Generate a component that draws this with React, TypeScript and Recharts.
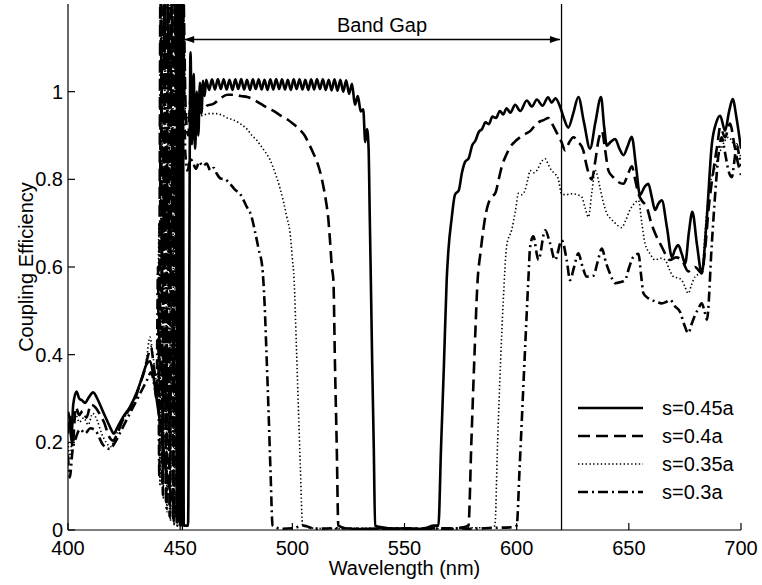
import React from 'react';
import { LineChart, Line, XAxis, YAxis, ReferenceLine, ReferenceDot, Legend, Label } from 'recharts';

type Pt = [number, number];

const FONT = '"Liberation Sans", Arial, Helvetica, sans-serif';

const wavelengthTicks = [400, 450, 500, 550, 600, 650, 700];
const efficiencyTicks = [0, 0.2, 0.4, 0.6, 0.8, 1];

// Coupling efficiency vs wavelength (nm), s = 0.45a
const s045: Pt[] = [
  [400, 0.27], [400.8, 0.25], [401.5, 0.205], [402.3, 0.285], [403.8, 0.316], [405, 0.3], [406.2, 0.296],
  [407.6, 0.29], [409.2, 0.302], [411.2, 0.314], [413.4, 0.296], [415.6, 0.27], [417.4, 0.25], [419, 0.232],
  [420.4, 0.22], [422.2, 0.236], [424.6, 0.258], [427.5, 0.28], [430.5, 0.312], [433, 0.348], [435, 0.378],
  [436.6, 0.385], [437.8, 0.36], [439.2, 0.31], [440.6, 0.26], [441.8, 0.22],
  [443.5, 0.14], [445.5, 0.09], [447.5, 0.05], [448.4, 0.03], [448.8, 1.35], [449.2, 0.02], [449.6, 1.35],
  [450.0, 0.01], [450.4, 1.35], [450.8, 0.01], [451.2, 1.35], [451.6, 0.01], [453.5, 0.01],
  [454.6, 1.09], [455.3, 0.88], [456.0, 1.04], [456.7, 0.87], [457.4, 1.0], [458.1, 0.9], [458.8, 1.02],
  [459.5, 0.95], [460.2, 1.025], [460.9, 0.99], [461.6, 1.027],
  [462.9, 1.004], [464.2, 1.028], [465.5, 1.005], [466.8, 1.029], [468.1, 1.006], [469.4, 1.028],
  [470.7, 1.005], [472.0, 1.027], [473.3, 1.004], [474.6, 1.028], [475.9, 1.006], [477.2, 1.029],
  [478.5, 1.005], [479.8, 1.027], [481.1, 1.004], [482.4, 1.028], [483.7, 1.006], [485.0, 1.028],
  [486.3, 1.005], [487.6, 1.027], [488.9, 1.004], [490.2, 1.028], [491.5, 1.005], [492.8, 1.029],
  [494.1, 1.006], [495.4, 1.028], [496.7, 1.005], [498.0, 1.027], [499.3, 1.004], [500.6, 1.028],
  [501.9, 1.006], [503.2, 1.028], [504.5, 1.005], [505.8, 1.027], [507.1, 1.004], [508.4, 1.028],
  [509.7, 1.005], [511.0, 1.029], [512.3, 1.006], [513.6, 1.028], [514.9, 1.004], [516.2, 1.027],
  [517.5, 1.003], [518.8, 1.028], [520.1, 1.002], [521.4, 1.027], [522.7, 1.0], [524.0, 1.026],
  [525.3, 0.995], [526.6, 1.018], [527.9, 0.97], [529.2, 0.99], [530.5, 0.955], [531.6, 0.96],
  [532.5, 0.885], [533.3, 0.915], [534.0, 0.87], [534.5, 0.72], [535.0, 0.57], [535.6, 0.38],
  [536.3, 0.19], [536.9, 0.01],
  [540, 0.006], [545, 0.003], [550, 0.004], [555, 0.002], [560, 0.005], [563, 0.01], [565.1, 0.01],
  [566.3, 0.19], [567.6, 0.38], [568.8, 0.57], [569.6, 0.64], [571, 0.71], [572.5, 0.765], [574.2, 0.775],
  [575.6, 0.815], [577, 0.84], [578.6, 0.848], [580.2, 0.878], [581.6, 0.888], [583.1, 0.908],
  [584.6, 0.915], [586.1, 0.93], [587.6, 0.926], [589.2, 0.943], [590.8, 0.94], [592.5, 0.956],
  [594.0, 0.948], [595.5, 0.962], [597.2, 0.952], [599.3, 0.97], [601.6, 0.956], [604.5, 0.98],
  [606.8, 0.966], [609, 0.982], [611.5, 0.968], [614, 0.987], [615.6, 0.975], [617.3, 0.985],
  [619.4, 0.965], [621, 0.94], [623, 0.918], [625.2, 0.95], [627.5, 0.988], [630, 0.93], [632.7, 0.87],
  [635.1, 0.93], [637.6, 0.988], [639, 0.92], [640.2, 0.877], [642, 0.886], [643.9, 0.892],
  [645.8, 0.87], [647.6, 0.855], [649.5, 0.876], [651.3, 0.897], [653.2, 0.83], [655, 0.764],
  [656.9, 0.782], [658.7, 0.79], [660.2, 0.76], [661.7, 0.73], [663.2, 0.745], [664.7, 0.752],
  [667, 0.69], [669.2, 0.623], [670.6, 0.64], [672, 0.65], [673.6, 0.63], [675.1, 0.608], [676.8, 0.68],
  [678.3, 0.726], [680.4, 0.65], [682.5, 0.586], [684.6, 0.7], [687, 0.88], [689, 0.93], [690.7, 0.945],
  [692.9, 0.911], [694.7, 0.955], [696.3, 0.983], [698, 0.94], [700, 0.87],
];

// s = 0.4a
const s040: Pt[] = [
  [400, 0.22], [401, 0.26], [402, 0.19], [403.5, 0.28], [405, 0.262], [406.6, 0.272], [408.2, 0.256],
  [410.2, 0.286], [412.2, 0.28], [414.2, 0.264], [416.2, 0.244], [418.2, 0.214], [420, 0.204], [422, 0.22],
  [424, 0.246], [426, 0.266], [428, 0.28], [430, 0.3], [432, 0.332], [434, 0.362], [435.8, 0.4],
  [437, 0.418], [438.3, 0.37], [439.5, 0.33], [440.5, 0.28],
  [441.3, 1.35], [442.1, 0.1], [442.9, 1.35], [443.7, 0.06], [444.5, 1.35], [445.3, 0.03], [446.1, 1.35],
  [446.9, 0.02], [447.7, 1.35], [448.5, 0.01], [449.3, 1.35], [450.1, 0.02], [450.9, 1.35],
  [452.6, 0.94], [453.6, 0.9], [454.6, 0.985], [455.6, 0.915], [456.6, 0.975], [457.6, 0.935],
  [458.8, 0.97], [460.2, 0.958], [462, 0.968], [464.8, 0.972], [468, 0.985], [471, 0.993], [474, 0.993],
  [477, 0.99], [480, 0.988], [483, 0.981], [486, 0.972], [489, 0.963], [492, 0.955], [495, 0.945],
  [498, 0.936], [500.5, 0.926], [503, 0.915], [505.5, 0.9], [507.5, 0.88], [509.5, 0.858], [511, 0.84],
  [512.5, 0.815], [513.8, 0.785], [515, 0.75], [516, 0.712], [516.8, 0.66], [517.6, 0.6], [518.3, 0.57],
  [519.0, 0.38], [519.8, 0.19], [520.5, 0.01],
  [525, 0.003], [530, 0.002], [540, 0.004], [550, 0.003], [560, 0.004], [570, 0.003], [576, 0.006],
  [578.5, 0.01], [579.8, 0.2], [581.2, 0.4], [582.6, 0.57], [583.8, 0.63], [585, 0.68], [586.2, 0.72],
  [587.4, 0.745], [589, 0.76], [590.6, 0.77], [592, 0.8], [593.4, 0.83], [595.3, 0.855], [597, 0.873],
  [599, 0.885], [601.5, 0.896], [604, 0.904], [606, 0.91], [608, 0.922], [609.7, 0.93], [612, 0.935],
  [614.1, 0.94], [616, 0.925], [618, 0.905], [620, 0.885], [621.6, 0.866], [623.5, 0.885], [625.3, 0.896],
  [627.5, 0.885], [629.7, 0.866], [631, 0.835], [632, 0.815], [633.5, 0.8], [635, 0.84], [636.5, 0.89],
  [638, 0.91], [639.5, 0.865], [640.9, 0.82], [643, 0.805], [645, 0.795], [647.6, 0.79], [649.5, 0.81],
  [651.3, 0.83], [652.8, 0.8], [654.3, 0.767], [656, 0.75], [658, 0.737], [660, 0.7], [661.7, 0.677],
  [664.7, 0.646], [668.4, 0.616], [671, 0.622], [673.6, 0.616], [676.5, 0.59], [679.5, 0.6],
  [682.5, 0.586], [684, 0.64], [685.5, 0.73], [687.7, 0.82], [689.5, 0.88], [690.7, 0.919],
  [692.9, 0.896], [695.1, 0.927], [697, 0.88], [698.1, 0.85], [700, 0.81],
];

// s = 0.35a
const s035: Pt[] = [
  [400, 0.2], [401, 0.16], [402, 0.24], [403.5, 0.262], [405, 0.246], [407, 0.256], [409, 0.24],
  [411, 0.266], [413, 0.25], [415, 0.22], [417, 0.2], [419, 0.19], [421, 0.21], [423, 0.236], [425, 0.255],
  [427, 0.27], [429, 0.29], [431, 0.316], [433, 0.346], [435, 0.39], [436.5, 0.44], [437.8, 0.4],
  [439, 0.35], [440, 0.3],
  [440.5, 0.7], [441.0, 0.1], [441.7, 1.35], [442.5, 0.07], [443.3, 1.35], [444.1, 0.04], [444.9, 1.35],
  [445.7, 0.02], [446.5, 1.35], [447.3, 0.01], [448.1, 1.35], [448.9, 0.01], [449.7, 1.35], [450.5, 0.02],
  [451.1, 1.35],
  [452.5, 0.93], [453.8, 0.95], [455.2, 0.935], [457.4, 0.942], [460, 0.946], [463, 0.95], [466, 0.95],
  [468.5, 0.947], [471, 0.94], [474, 0.935], [477, 0.926], [479.7, 0.915], [482, 0.9], [484, 0.89],
  [486, 0.876], [488, 0.862], [490, 0.845], [492.3, 0.815], [494.5, 0.78], [496, 0.75], [497.5, 0.715],
  [499, 0.677], [500, 0.62], [500.8, 0.57], [501.8, 0.42], [502.7, 0.28], [503.6, 0.14], [504.6, 0.01],
  [510, 0.004], [520, 0.003], [530, 0.004], [540, 0.003], [550, 0.002], [560, 0.004], [570, 0.003],
  [580, 0.005], [588, 0.005], [590.3, 0.01],
  [591.5, 0.2], [592.8, 0.38], [594, 0.52], [595.6, 0.65], [597.8, 0.685], [599.5, 0.73], [600.8, 0.768],
  [602.3, 0.765], [603.7, 0.775], [605, 0.8], [606, 0.82], [607.5, 0.815], [609, 0.82], [611, 0.84],
  [612.7, 0.847], [614, 0.835], [615.6, 0.82], [617, 0.813], [618.6, 0.8], [620, 0.767], [622, 0.765],
  [624.5, 0.767], [627, 0.765], [629, 0.76], [630.5, 0.735], [632, 0.714], [633.5, 0.77], [635, 0.82],
  [637.2, 0.78], [638.5, 0.75], [640.2, 0.722], [642, 0.71], [643.9, 0.7], [646.8, 0.69], [648.5, 0.705],
  [650.5, 0.73], [652.5, 0.745], [654.3, 0.752], [655.8, 0.7], [657.2, 0.654], [659.5, 0.63],
  [661.7, 0.616], [664, 0.62], [666.2, 0.616], [668, 0.595], [669.9, 0.578], [671.8, 0.575],
  [673.6, 0.57], [675, 0.555], [676.5, 0.54], [678, 0.56], [679.5, 0.578], [681, 0.583], [682.5, 0.586],
  [684, 0.68], [685.5, 0.767], [688.5, 0.828], [691.4, 0.873], [694.4, 0.896], [697.4, 0.873],
  [699.3, 0.858], [700, 0.85],
];

// s = 0.3a
const s030: Pt[] = [
  [400, 0.17], [400.8, 0.12], [402, 0.18], [403.5, 0.21], [405.5, 0.23], [407.5, 0.22], [410, 0.232],
  [412.5, 0.225], [415.5, 0.195], [418.5, 0.185], [421, 0.2], [424, 0.23], [427, 0.26], [430, 0.29],
  [433, 0.32], [435.5, 0.345], [437, 0.36], [438.5, 0.33], [439.5, 0.3],
  [440.1, 0.6], [440.7, 0.12], [441.5, 1.35], [442.3, 0.08], [443.1, 1.35], [443.9, 0.05], [444.7, 1.35],
  [445.5, 0.03], [446.3, 1.35], [447.1, 0.02], [447.9, 1.35], [448.7, 0.01], [449.5, 1.35], [450.3, 0.02],
  [450.8, 1.35],
  [452.3, 0.86], [453.3, 0.82], [454.5, 0.846], [455.9, 0.836], [457, 0.824], [458.5, 0.84], [460, 0.83],
  [461.8, 0.836], [463.5, 0.82], [465, 0.826], [466.3, 0.813], [468, 0.802], [470, 0.8], [472.2, 0.79],
  [474.5, 0.776], [476.7, 0.767], [478.3, 0.752], [479.7, 0.737], [481.5, 0.72], [483.4, 0.68],
  [485, 0.64], [486.6, 0.6], [487.6, 0.52], [488.5, 0.4], [489.4, 0.27], [490.3, 0.13], [491.2, 0.01],
  [495, 0.003], [500, 0.004], [505, 0.01], [510, 0.003], [520, 0.004], [530, 0.003], [540, 0.002],
  [550, 0.004], [560, 0.003], [570, 0.004], [580, 0.003], [590, 0.005], [597, 0.006], [600, 0.01],
  [601.3, 0.14], [602.6, 0.285], [603.9, 0.43], [605.2, 0.57], [606, 0.646], [607.4, 0.67],
  [609.7, 0.616], [612.7, 0.684], [614.9, 0.654], [617.1, 0.616], [620.1, 0.661], [622.3, 0.616],
  [623.8, 0.57], [625.6, 0.6], [627.5, 0.631], [629.4, 0.6], [631.2, 0.578], [634.2, 0.58], [636, 0.61],
  [638, 0.642], [639.8, 0.61], [641.6, 0.585], [643.9, 0.563], [646, 0.565], [648.3, 0.57], [650.2, 0.6],
  [652, 0.623], [654.3, 0.63], [655.5, 0.58], [656.5, 0.54], [658.3, 0.53], [660.2, 0.525],
  [662.5, 0.52], [664.7, 0.517], [666.5, 0.52], [668.4, 0.525], [670.6, 0.51], [672.8, 0.498],
  [674.6, 0.47], [676.5, 0.449], [678, 0.47], [679.5, 0.49], [681, 0.505], [682.5, 0.517],
  [683.7, 0.5], [684.8, 0.48], [687, 0.654], [688.5, 0.767], [690, 0.858], [691.4, 0.896],
  [692.9, 0.86], [694.4, 0.82], [695.9, 0.805], [697, 0.84], [698.1, 0.88], [699.3, 0.85], [700, 0.83],
];

// Band-gap annotation
const bandGapEdges = [451, 620];
const bandGapArrow = { from: 451.8, to: 619.3, level: 1.119 };
const bandGapText = { text: 'Band Gap', x: 540, y: 1.152 };

const series = [
  { name: 's=0.45a', points: s045, width: 2.6, dash: undefined as string | undefined },
  { name: 's=0.4a', points: s040, width: 2.6, dash: '12 6' },
  { name: 's=0.35a', points: s035, width: 1.6, dash: '1.4 2.4' },
  { name: 's=0.3a', points: s030, width: 2.6, dash: '10 4 2 4' },
];

const ArrowShape = (props: any) => {
  const { x1, y1, x2, y2 } = props;
  const h = 10;
  const w = 3.5;
  return (
    <g>
      <line x1={x1} y1={y1} x2={x2} y2={y2} stroke="#000" strokeWidth={1.3} />
      <polygon points={`${x1},${y1} ${x1 + h},${y1 - w} ${x1 + h},${y1 + w}`} fill="#000" />
      <polygon points={`${x2},${y2} ${x2 - h},${y2 - w} ${x2 - h},${y2 + w}`} fill="#000" />
    </g>
  );
};

const LegendBox = () => (
  <div style={{ fontFamily: FONT, fontSize: 20, color: '#000' }}>
    {series.map((s) => (
      <div key={s.name} style={{ display: 'flex', alignItems: 'center', height: 28 }}>
        <svg width={81} height={28} style={{ display: 'block' }}>
          <line x1={8} x2={73} y1={14} y2={14} stroke="#000" strokeWidth={s.width} strokeDasharray={s.dash} />
        </svg>
        <span style={{ marginLeft: 11, whiteSpace: 'nowrap' }}>{s.name}</span>
      </div>
    ))}
  </div>
);

const tickStyle = { fontSize: 20, fill: '#000', fontFamily: FONT };
const axisStroke = { stroke: '#000', strokeWidth: 1.2 };

export default function App() {
  const drawOrder = [...series].reverse();
  return (
    <div style={{ position: 'absolute', left: 0, top: 0, width: 762, height: 585, background: '#fff' }}>
      <LineChart width={762} height={585} margin={{ top: 4, right: 21, bottom: 10, left: 8 }} style={{ fontFamily: FONT }}>
        <XAxis
          dataKey="x"
          type="number"
          domain={[400, 700]}
          allowDataOverflow
          ticks={wavelengthTicks}
          interval={0}
          tickSize={-7}
          tickMargin={18}
          height={45}
          tick={tickStyle}
          axisLine={axisStroke}
          tickLine={axisStroke}
        >
          <Label value="Wavelength (nm)" position="insideBottom" offset={0} style={{ fontSize: 20, fill: '#000', fontFamily: FONT }} />
        </XAxis>
        <XAxis
          xAxisId="top"
          orientation="top"
          dataKey="x"
          type="number"
          domain={[400, 700]}
          allowDataOverflow
          ticks={wavelengthTicks}
          interval={0}
          tickSize={-7}
          height={0}
          tick={false}
          axisLine={axisStroke}
          tickLine={axisStroke}
        />
        <YAxis
          type="number"
          domain={[0, 1.2]}
          allowDataOverflow
          ticks={efficiencyTicks}
          interval={0}
          tickSize={-7}
          tickMargin={12}
          width={60}
          tick={tickStyle}
          axisLine={axisStroke}
          tickLine={axisStroke}
        >
          <Label
            value="Coupling Efficiency"
            angle={-90}
            position="insideLeft"
            offset={18}
            style={{ textAnchor: 'middle', fontSize: 20, fill: '#000', fontFamily: FONT }}
          />
        </YAxis>
        <YAxis
          yAxisId="right"
          orientation="right"
          type="number"
          domain={[0, 1.2]}
          allowDataOverflow
          ticks={efficiencyTicks}
          interval={0}
          tickSize={-7}
          width={0}
          tick={false}
          axisLine={axisStroke}
          tickLine={axisStroke}
        />
        {drawOrder.map((s) => (
          <Line
            key={s.name}
            name={s.name}
            data={s.points.map(([x, y]) => ({ x, y }))}
            dataKey="y"
            type="monotone"
            stroke="#000"
            strokeWidth={s.width}
            strokeDasharray={s.dash}
            dot={false}
            activeDot={false}
            isAnimationActive={false}
          />
        ))}
        {bandGapEdges.map((x) => (
          <ReferenceLine key={x} x={x} stroke="#000" strokeWidth={1.3} />
        ))}
        <ReferenceLine
          segment={[
            { x: bandGapArrow.from, y: bandGapArrow.level },
            { x: bandGapArrow.to, y: bandGapArrow.level },
          ]}
          shape={ArrowShape}
        />
        <ReferenceDot
          x={bandGapText.x}
          y={bandGapText.y}
          r={1}
          fill="none"
          stroke="none"
          label={{ value: bandGapText.text, position: 'center', fontSize: 20, fill: '#000', fontFamily: FONT }}
        />
        <Legend
          layout="vertical"
          align="center"
          verticalAlign="middle"
          content={LegendBox}
          wrapperStyle={{ left: 570, top: 394, width: 185, height: 112 }}
        />
      </LineChart>
    </div>
  );
}
